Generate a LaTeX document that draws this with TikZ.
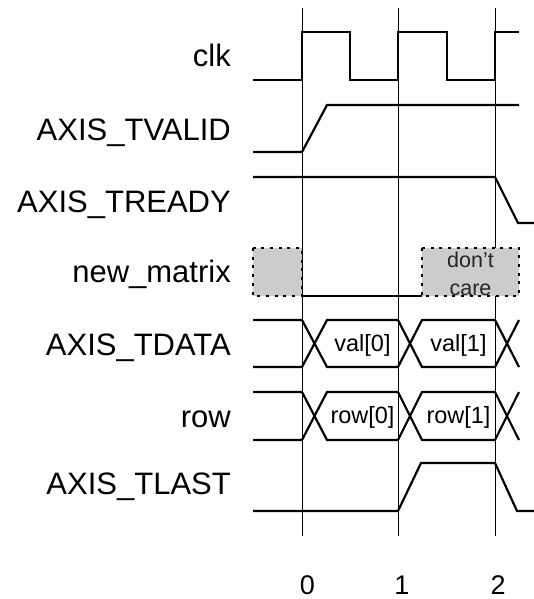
\documentclass[tikz,border=0pt]{standalone}
\usepackage{fontspec}
\setmainfont{Liberation Sans}
\definecolor{dcgray}{gray}{0.8}
\definecolor{dctext}{gray}{0.15}
\begin{document}
\begin{tikzpicture}[x=1pt,y=-1pt,
  sig/.style={line width=2.2pt, line join=miter},
  gridline/.style={line width=0.9pt},
  dcbox/.style={fill=dcgray, line width=2.2pt, dash pattern=on 3pt off 5.7pt},
  lbl/.style={anchor=base east, inner sep=0pt, font=\fontsize{31}{36}\selectfont},
  vallbl/.style={anchor=base, inner sep=0pt, font=\fontsize{23.5}{28}\selectfont},
  dclbl/.style={anchor=base, inner sep=0pt, text=dctext, font=\fontsize{21.5}{26}\selectfont},
  ticklbl/.style={anchor=base, inner sep=0pt, font=\fontsize{27}{32}\selectfont}]
\useasboundingbox (0,0) rectangle (534,599);

% grid lines
\draw[gridline] (302,8) coordinate (g0t) -- (302,536) coordinate (g0b);
\draw[gridline] (398,8) coordinate (g1t) -- (398,536) coordinate (g1b);
\draw[gridline] (495,8) coordinate (g2t) -- (495,536) coordinate (g2b);

% signal names
\node[lbl] (lclk)   at (231,66.5) {clk};
\node[lbl] (ltvalid) at (231,140) {AXIS\_TVALID};
\node[lbl] (ltready) at (231,212) {AXIS\_TREADY};
\node[lbl] (lnew)   at (231,282) {new\_matrix};
\node[lbl] (ltdata) at (231,355) {AXIS\_TDATA};
\node[lbl] (lrow)   at (231,427) {row};
\node[lbl] (ltlast) at (231,494) {AXIS\_TLAST};

% clk
\draw[sig] (253,80) -- (302,80) -- (302,32) -- (350,32) -- (350,80) -- (398,80)
  -- (398,32) -- (447,32) -- (447,80) -- (495,80) -- (495,32) -- (519,32);

% AXIS_TVALID
\draw[sig] (253,152) -- (302,152) -- (327,105) -- (519,105);

% AXIS_TREADY
\draw[sig] (253,177) -- (495,177) -- (518,223) -- (534,223);

% new_matrix
\draw[dcbox] (253,248) rectangle (302,296);
\draw[sig, line width=2pt] (302,296) -- (422,296);
\draw[dcbox] (422,248) rectangle (519,296);
\node[dclbl] (dc1) at (470.5,267) {don’t};
\node[dclbl] (dc2) at (470.5,295) {care};

% AXIS_TDATA
\draw[sig] (253,320) -- (302,320) -- (327,367) -- (398,367) -- (422,320) -- (495,320) -- (519,367);
\draw[sig] (253,367) -- (302,367) -- (327,320) -- (398,320) -- (422,367) -- (495,367) -- (519,320);
\node[vallbl] (v0) at (362.5,351.5) {val[0]};
\node[vallbl] (v1) at (458.5,351.5) {val[1]};

% row
\draw[sig] (253,392) -- (302,392) -- (327,440) -- (398,440) -- (422,392) -- (495,392) -- (519,440);
\draw[sig] (253,440) -- (302,440) -- (327,392) -- (398,392) -- (422,440) -- (495,440) -- (519,392);
\node[vallbl] (r0) at (362.5,423.5) {row[0]};
\node[vallbl] (r1) at (458.5,423.5) {row[1]};

% AXIS_TLAST
\draw[sig] (253,511) -- (398,511) -- (421,463) -- (495,463) -- (517,511) -- (534,511);

% cycle numbers
\node[ticklbl] (t0) at (307.5,594) {0};
\node[ticklbl] (t1) at (402,594) {1};
\node[ticklbl] (t2) at (498,594) {2};
\end{tikzpicture}
\end{document}
